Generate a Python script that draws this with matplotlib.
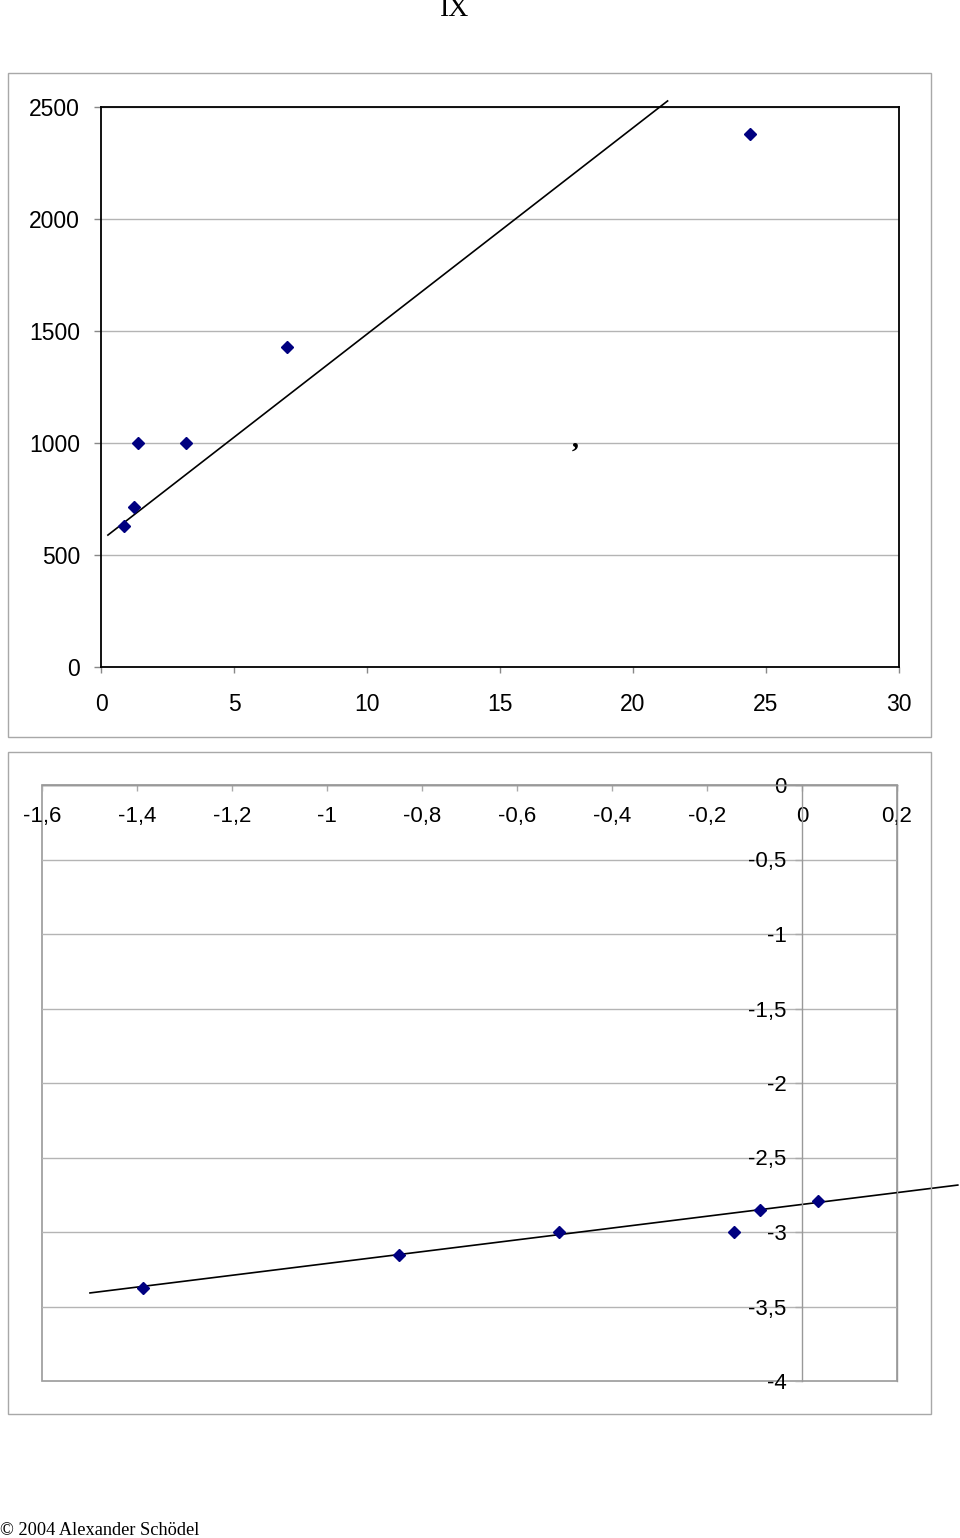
import matplotlib.pyplot as plt
from matplotlib.patches import Rectangle

plt.rcParams['font.family'] = ['Liberation Sans', 'DejaVu Sans']

# upper chart data
upper_x = [0.86, 1.24, 1.39, 3.2, 7.0, 24.4]
upper_y = [629, 714, 1000, 1000, 1429, 2379]
upper_line_x = [0.26, 21.3]
upper_line_y = [589, 2527]
upper_xticks = [0, 5, 10, 15, 20, 25, 30]
upper_yticks = [0, 500, 1000, 1500, 2000, 2500]

# lower chart data
lower_x = [-1.387, -0.848, -0.512, -0.143, -0.088, 0.034]
lower_y = [-3.376, -3.154, -3.0, -3.0, -2.852, -2.792]
lower_line_x = [-1.499, 0.328]
lower_line_y = [-3.409, -2.685]
lower_xticks = [-1.6, -1.4, -1.2, -1.0, -0.8, -0.6, -0.4, -0.2, 0.0, 0.2]
lower_xlabels = ["-1,6", "-1,4", "-1,2", "-1", "-0,8", "-0,6", "-0,4", "-0,2", "0", "0,2"]
lower_yticks = [0, -0.5, -1, -1.5, -2, -2.5, -3, -3.5, -4]
lower_ylabels = ["0", "-0,5", "-1", "-1,5", "-2", "-2,5", "-3", "-3,5", "-4"]

W, H = 960, 1538
MARKER = "#000080"
GRID = "#b4b4b4"


def fig_box(x0, y0, x1, y1):
    # pixel box (top-left origin) -> figure fraction rect
    return [x0 / W, 1 - y1 / H, (x1 - x0) / W, (y1 - y0) / H]


fig = plt.figure(figsize=(W / 100, H / 100), dpi=100)

# chart frames
for box in [fig_box(8, 73, 931, 737), fig_box(8, 752, 931, 1414)]:
    fig.add_artist(Rectangle((box[0], box[1]), box[2], box[3], transform=fig.transFigure,
                             fill=False, edgecolor="#a8a8a8", linewidth=1))

# upper chart
ax1 = fig.add_axes(fig_box(101, 107, 899, 667))
ax1.set_xlim(0, 30)
ax1.set_ylim(0, 2500)
ax1.set_xticks(upper_xticks)
ax1.set_yticks(upper_yticks)
ax1.grid(axis="y", color=GRID, linewidth=1)
ax1.set_axisbelow(True)
for s in ax1.spines.values():
    s.set_color("black")
    s.set_linewidth(1.3)
ax1.tick_params(axis="y", direction="out", length=5, width=1, color="#888888",
                labelsize=16.5, pad=10)
ax1.tick_params(axis="x", direction="out", length=4, width=1, color="#888888",
                labelsize=16.5, pad=15)
ax1.plot(upper_line_x, upper_line_y, color="black", linewidth=1.2, clip_on=False)
ax1.plot(upper_x, upper_y, linestyle="none", marker="D", markersize=6.5,
         color=MARKER, clip_on=False, zorder=3)

# lower chart
ax2 = fig.add_axes(fig_box(42, 785, 897, 1381))
ax2.set_xlim(-1.6, 0.2)
ax2.set_ylim(-4, 0)
ax2.set_xticks(lower_xticks, lower_xlabels)
ax2.set_yticks(lower_yticks, lower_ylabels)
ax2.grid(axis="y", color=GRID, linewidth=1)
ax2.set_axisbelow(True)
ax2.spines["left"].set_position(("data", 0))
ax2.spines["bottom"].set_position(("data", 0))
for s in ax2.spines.values():
    s.set_color("#999999")
    s.set_linewidth(1)
ax2.patch.set_edgecolor("#999999")
ax2.patch.set_linewidth(1.2)
ax2.tick_params(axis="x", direction="out", length=4, width=1, color="#aaaaaa",
                labelsize=16, pad=11)
ax2.tick_params(axis="y", direction="out", length=5, width=1, color="#aaaaaa",
                labelsize=16, pad=6)
ax2.plot(lower_line_x, lower_line_y, color="black", linewidth=1.2, clip_on=False)
ax2.plot(lower_x, lower_y, linestyle="none", marker="D", markersize=6.5,
         color=MARKER, clip_on=False, zorder=3)

# page texts
fig.text(455 / W, 1 - 16 / H, "IX", family="Liberation Serif", fontsize=20,
         ha="center", va="baseline")
fig.text(575 / W, 1 - 447 / H, ",", family="Liberation Serif", fontsize=20,
         ha="center", va="baseline", fontweight="bold")
fig.text(0, 1 - 1535 / H, "\u00a9 2004 Alexander Schödel", family="Liberation Serif",
         fontsize=13.2, ha="left", va="baseline")

fig.savefig("out.png", dpi=100)
